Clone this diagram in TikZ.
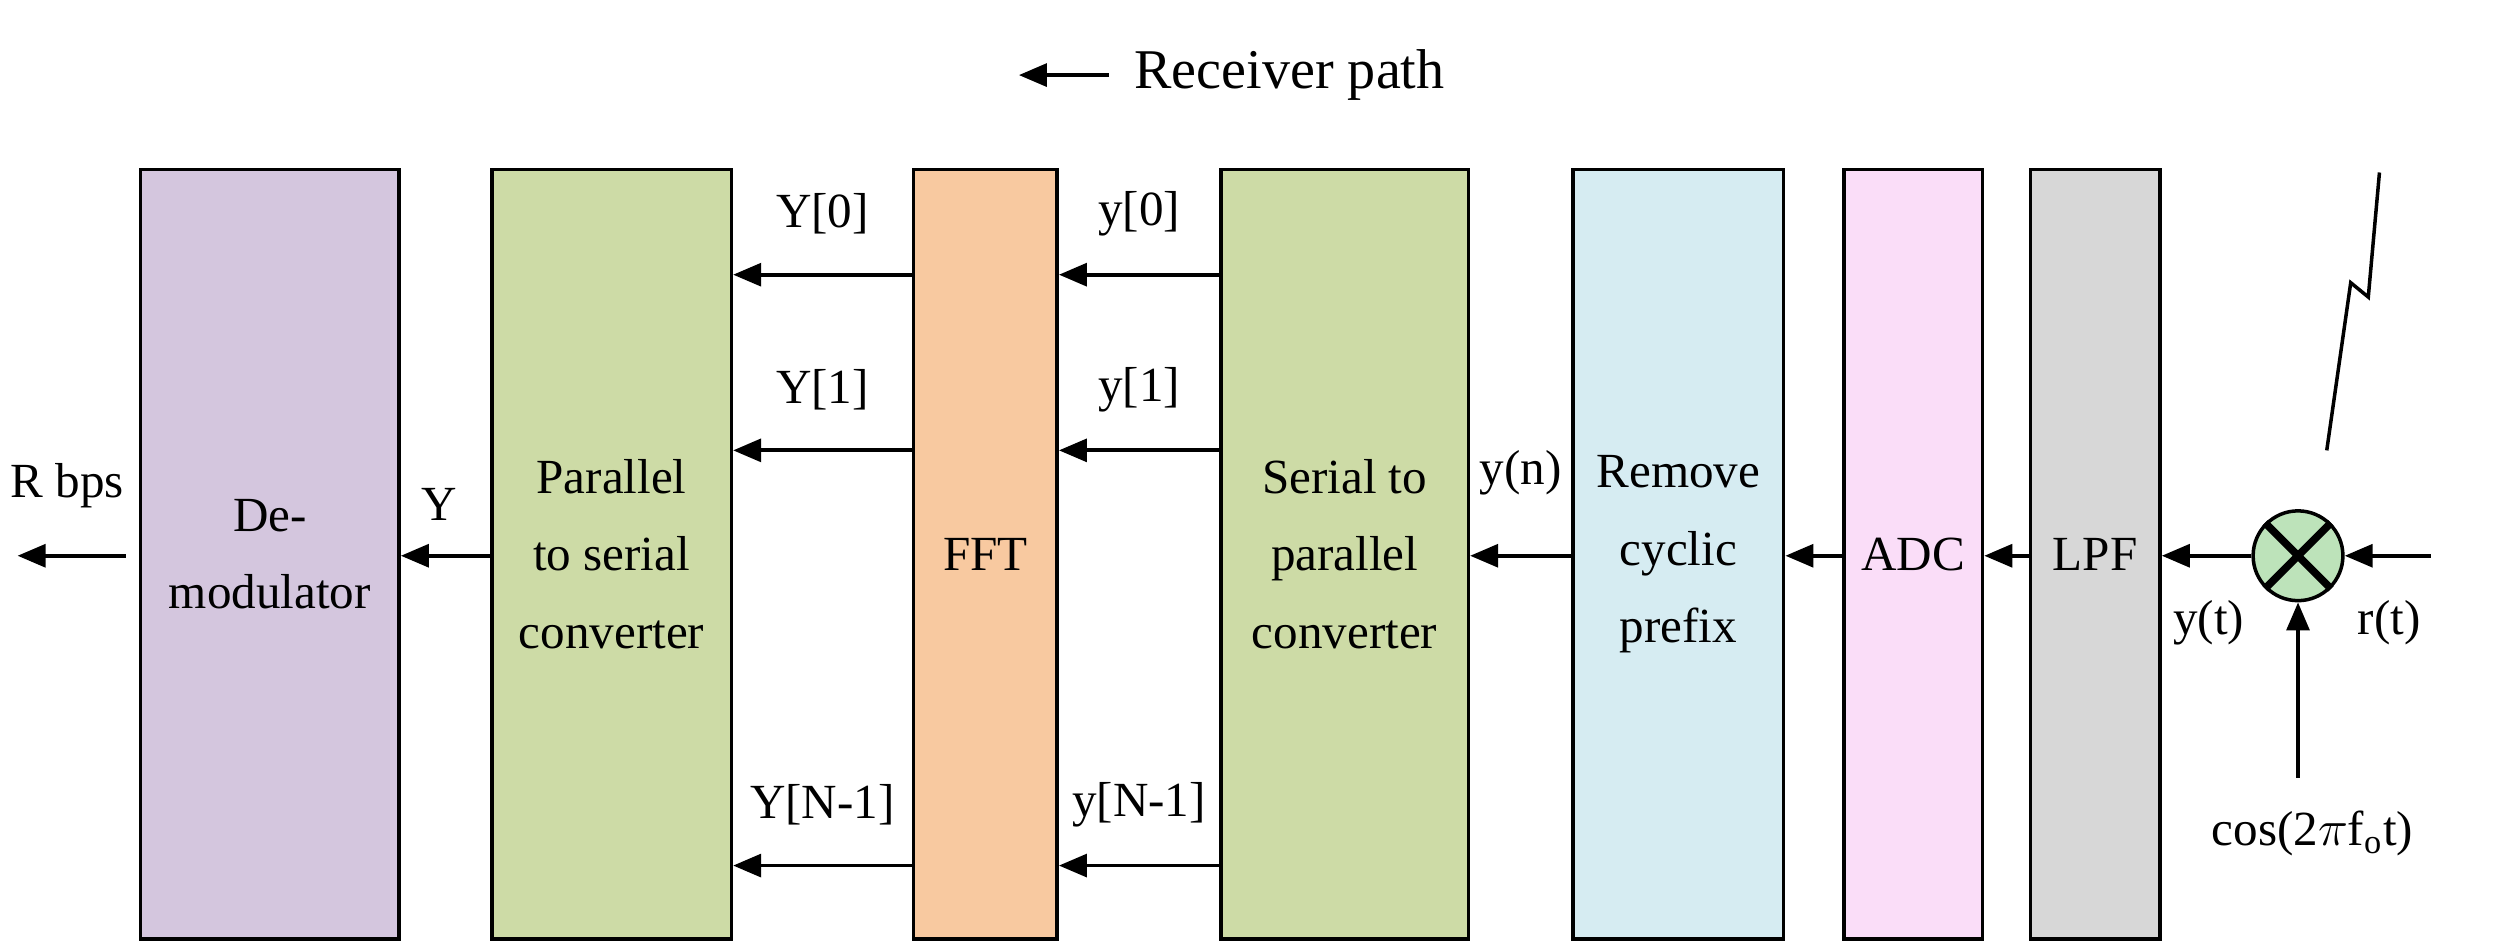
\documentclass[tikz,border=0pt]{standalone}
\usepackage{fontspec}
\setmainfont{Liberation Serif}
\usetikzlibrary{arrows.meta}

\definecolor{demodc}{HTML}{D4C6DE}
\definecolor{convc}{HTML}{CDDBA6}
\definecolor{fftc}{HTML}{F8C9A0}
\definecolor{cpc}{HTML}{D6ECF2}
\definecolor{adcc}{HTML}{FADDF8}
\definecolor{lpfc}{HTML}{D7D7D7}
\definecolor{mixc}{HTML}{BDE3BA}

\begin{document}
\begin{tikzpicture}[x=0.016cm,y=-0.016cm,
    blk/.style={draw,line width=1pt,minimum height=7.71cm,inner sep=0pt,align=center,
      font=\fontsize{14}{22}\selectfont},
    arr/.style={-{Triangle[length=8pt,width=6.5pt]},line width=1.1pt},
    lbl/.style={font=\fontsize{14}{17}\selectfont,inner sep=1pt}]
    \useasboundingbox[fill=white] (0,0) rectangle (1568,594);

    % blocks, right to left
    \node[blk,fill=demodc,minimum width=2.59cm] (demod) at (169,347) {De-\\modulator};
    \node[blk,fill=convc,minimum width=2.40cm] (ps) at (383,347) {Parallel\\to serial\\converter};
    \node[blk,fill=fftc,minimum width=1.44cm] (fft) at (617,347) {FFT};
    \node[blk,fill=convc,minimum width=2.48cm] (sp) at (842,347) {Serial to\\parallel\\converter};
    \node[blk,fill=cpc,minimum width=2.11cm] (rcp) at (1051,347) {Remove\\cyclic\\prefix};
    \node[blk,fill=adcc,minimum width=1.39cm] (adc) at (1198,347) {ADC};
    \node[blk,fill=lpfc,minimum width=1.30cm] (lpf) at (1312,347) {LPF};

    % mixer
    \node[draw,circle,fill=mixc,line width=1pt,minimum size=0.9cm,inner sep=0pt] (mix) at (1439,348) {};
    \draw[line width=2.2pt] (mix.north west) -- (mix.south east) (mix.north east) -- (mix.south west);
    \coordinate (rin) at (1522,348);
    \coordinate (loin) at (1439,487);
    \draw[arr] (rin) -- (mix.east);
    \draw[arr] (loin) -- (mix.south);
    \node[lbl] (rt) at (1496,390) {r(t)};
    \node[lbl] (yt) at (1383,390) {y(t)};
    \node[lbl] (lo) at (1448,522) {cos(2$\pi$f\textsubscript{o}t)};

    % antenna
    \draw[line width=1pt] (1490,108) -- (1483,186) -- (1472,177) -- (1457,282);

    % serial chain
    \draw[arr] (mix.west) -- (mix.west -| lpf.east);
    \draw[arr] (lpf.west |- mix.west) -- (adc.east |- mix.west);
    \draw[arr] (adc.west |- mix.west) -- (rcp.east |- mix.west);
    \draw[arr] (rcp.west |- mix.west) -- (sp.east |- mix.west)
        node[lbl,midway,yshift=0.83cm] (yn) {y(n)};

    % parallel branches
    \foreach \r/\yy/\lab/\ulab in {0/172/y[0]/Y[0], 1/282/y[1]/Y[1], 2/542/y[N-1]/Y[N-1]}
    {
    \coordinate (row\r) at (0,\yy);
    \draw[arr] (sp.west |- row\r) -- (fft.east |- row\r)
        node[lbl,midway,yshift=0.61cm] (ly\r) {\lab};
    \draw[arr] (fft.west |- row\r) -- (ps.east |- row\r)
        node[lbl,midway,yshift=0.61cm] (lY\r) {\ulab};
    }

    \draw[arr] (ps.west |- mix.west) -- (demod.east |- mix.west)
        node[lbl,midway,xshift=-0.06cm,yshift=0.51cm] (ylab) {Y};
    \coordinate (out) at (11,348);
    \draw[arr,shorten <=0.13cm] (demod.west |- mix.west) -- (out);
    \node[lbl,anchor=east,inner sep=0pt] (rbps) at (78,304) {R bps};

    % heading
    \node[anchor=west,inner sep=0pt,font=\fontsize{16}{19}\selectfont] (rxpath) at (710,47) {Receiver path};
    \coordinate (rxend) at (638,47);
    \draw[arr,shorten <=0.25cm] (rxpath.west) -- (rxend);
\end{tikzpicture}
\end{document}
